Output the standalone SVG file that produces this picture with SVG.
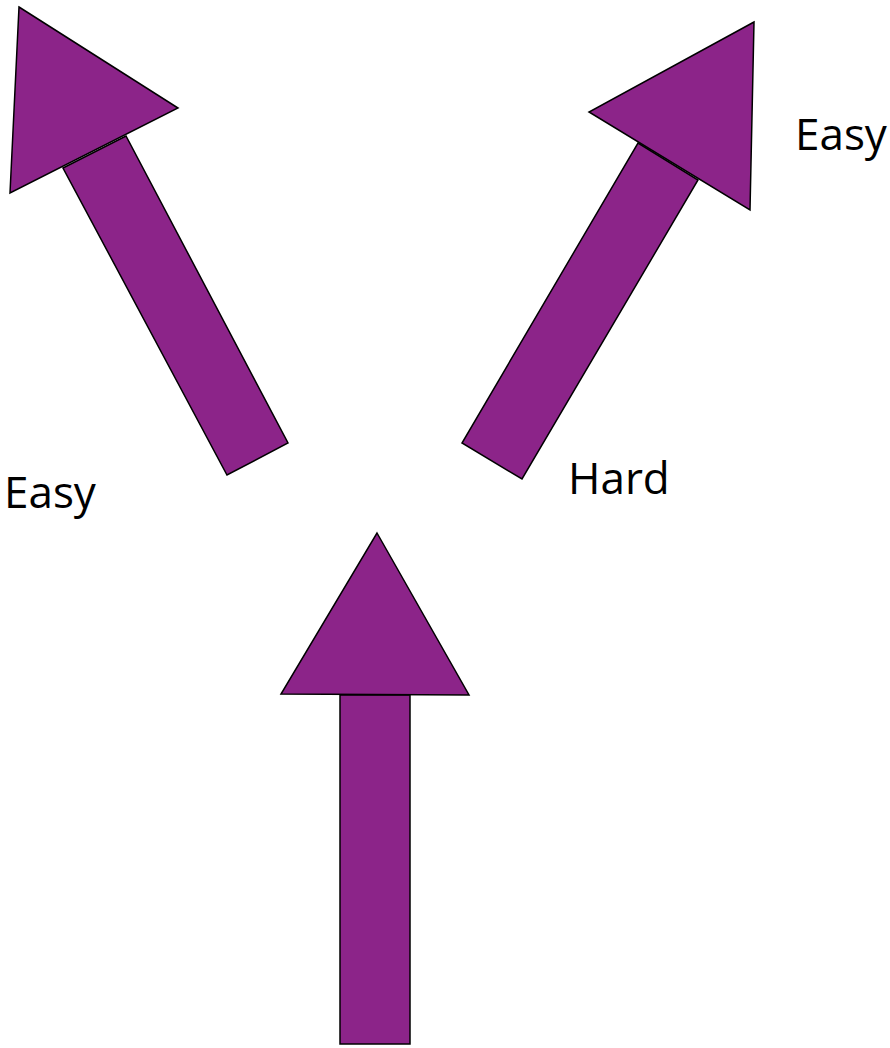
<svg xmlns="http://www.w3.org/2000/svg" width="890" height="1048" viewBox="0 0 890 1048">
<style>
.arr{fill:#8c2489;stroke:#000;stroke-width:1.5;stroke-linejoin:miter}
.lbl{font-family:"Open Sans","Liberation Sans",sans-serif;font-size:44px;fill:#000}
</style>
<rect width="890" height="1048" fill="#fff"/>
<g id="connectors">
<g id="arrow-left">
<polygon class="arr" points="63,168 126,136 288,443 227,475"/>
<polygon class="arr" points="19,7 178,108 10,193"/>
</g>
<g id="arrow-right">
<polygon class="arr" points="638,143 698,180 522,479 462,443"/>
<polygon class="arr" points="754,22 589,112 750,210"/>
</g>
<g id="arrow-bottom">
<rect class="arr" x="340" y="695" width="70" height="349"/>
<polygon class="arr" points="377,533 469,695 281,694"/>
</g>
</g>
<g id="label-easy-left"><text class="lbl" x="4" y="508">Easy</text></g>
<g id="label-easy-right"><text class="lbl" x="795" y="150">Easy</text></g>
<g id="label-hard"><text class="lbl" x="568" y="494">Hard</text></g>
</svg>
